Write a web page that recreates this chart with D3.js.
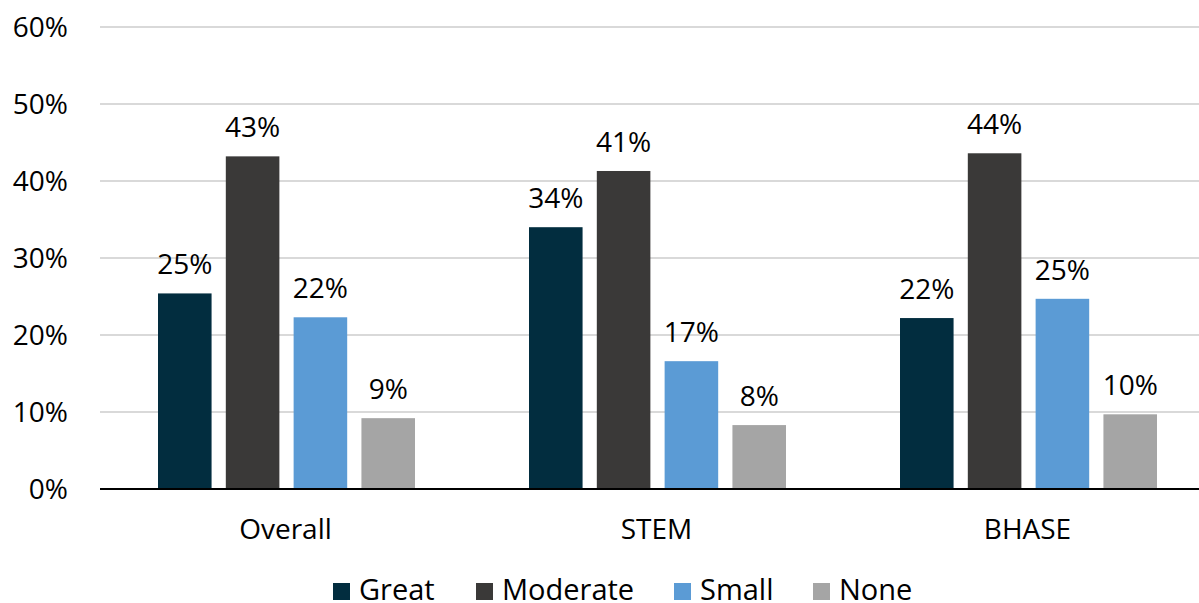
<!DOCTYPE html>
<html>
<head>
<meta charset="utf-8">
<script src="https://cdn.jsdelivr.net/npm/d3@7"></script>
<style>
  body { margin: 0; background: #fff; }
  text { font-family: 'Open Sans', 'Noto Sans', sans-serif; fill: #000; }
</style>
</head>
<body>
<script>
const categories = ['Overall', 'STEM', 'BHASE'];
const seriesNames = ['Great', 'Moderate', 'Small', 'None'];
const great = [0.254, 0.340, 0.222];
const moderate = [0.432, 0.413, 0.436];
const small = [0.223, 0.166, 0.247];
const none = [0.092, 0.083, 0.097];
const yTicks = [0, 0.1, 0.2, 0.3, 0.4, 0.5, 0.6];
const colors = ['#022d3f', '#3a3938', '#5b9bd5', '#a5a5a5'];

const series = [great, moderate, small, none];
const data = categories.map((c, i) => ({
  cat: c,
  vals: seriesNames.map((s, j) => ({ key: s, value: series[j][i] }))
}));

const width = 1199, height = 603;
const svg = d3.select('body').append('svg').attr('width', width).attr('height', height);

const y = d3.scaleLinear([0, 0.6], [489, 27]);
const x0 = d3.scaleBand(categories, [100, 1213]);
const x1 = d3.scaleBand(seriesNames, [58, 315]).paddingInner(0.21);
const color = d3.scaleOrdinal(seriesNames, colors);
const fmt = d3.format('.0%');
const fs = '28px';

// gridlines
svg.append('g')
  .selectAll('line')
  .data(yTicks.slice(1))
  .join('line')
  .attr('x1', 100).attr('x2', width)
  .attr('y1', d => y(d)).attr('y2', d => y(d))
  .attr('stroke', '#d9d9d9').attr('stroke-width', 2);

// y labels
svg.append('g')
  .selectAll('text')
  .data(yTicks)
  .join('text')
  .attr('x', 68).attr('y', d => y(d))
  .attr('dy', '0.35em')
  .attr('text-anchor', 'end')
  .style('font-size', fs)
  .text(d => fmt(d));

const groups = svg.append('g')
  .selectAll('g')
  .data(data)
  .join('g')
  .attr('transform', d => `translate(${x0(d.cat)},0)`);

groups.selectAll('rect')
  .data(d => d.vals)
  .join('rect')
  .attr('x', d => x1(d.key))
  .attr('width', x1.bandwidth())
  .attr('y', d => y(d.value))
  .attr('height', d => y(0) - y(d.value))
  .attr('fill', d => color(d.key));

groups.selectAll('text.lbl')
  .data(d => d.vals)
  .join('text')
  .attr('class', 'lbl')
  .attr('x', d => x1(d.key) + x1.bandwidth() / 2)
  .attr('y', d => y(d.value) - 19)
  .attr('text-anchor', 'middle')
  .style('font-size', fs)
  .text(d => fmt(d.value));

// axis line
svg.append('line')
  .attr('x1', 100).attr('x2', width)
  .attr('y1', y(0)).attr('y2', y(0))
  .attr('stroke', '#000').attr('stroke-width', 2);

// category labels
svg.append('g')
  .selectAll('text')
  .data(categories)
  .join('text')
  .attr('x', d => x0(d) + x0.bandwidth() / 2)
  .attr('y', 529)
  .attr('dy', '0.35em')
  .attr('text-anchor', 'middle')
  .style('font-size', fs)
  .text(d => d);

// legend
const legendX = [333, 476, 674, 813];
const legend = svg.append('g')
  .selectAll('g')
  .data(seriesNames)
  .join('g')
  .attr('transform', (d, i) => `translate(${legendX[i]},583)`);
legend.append('rect')
  .attr('x', 0).attr('y', 0)
  .attr('width', 17).attr('height', 17)
  .attr('fill', d => color(d));
legend.append('text')
  .attr('x', 26).attr('y', 17)
  .style('font-size', '29px')
  .text(d => d);
</script>
</body>
</html>
